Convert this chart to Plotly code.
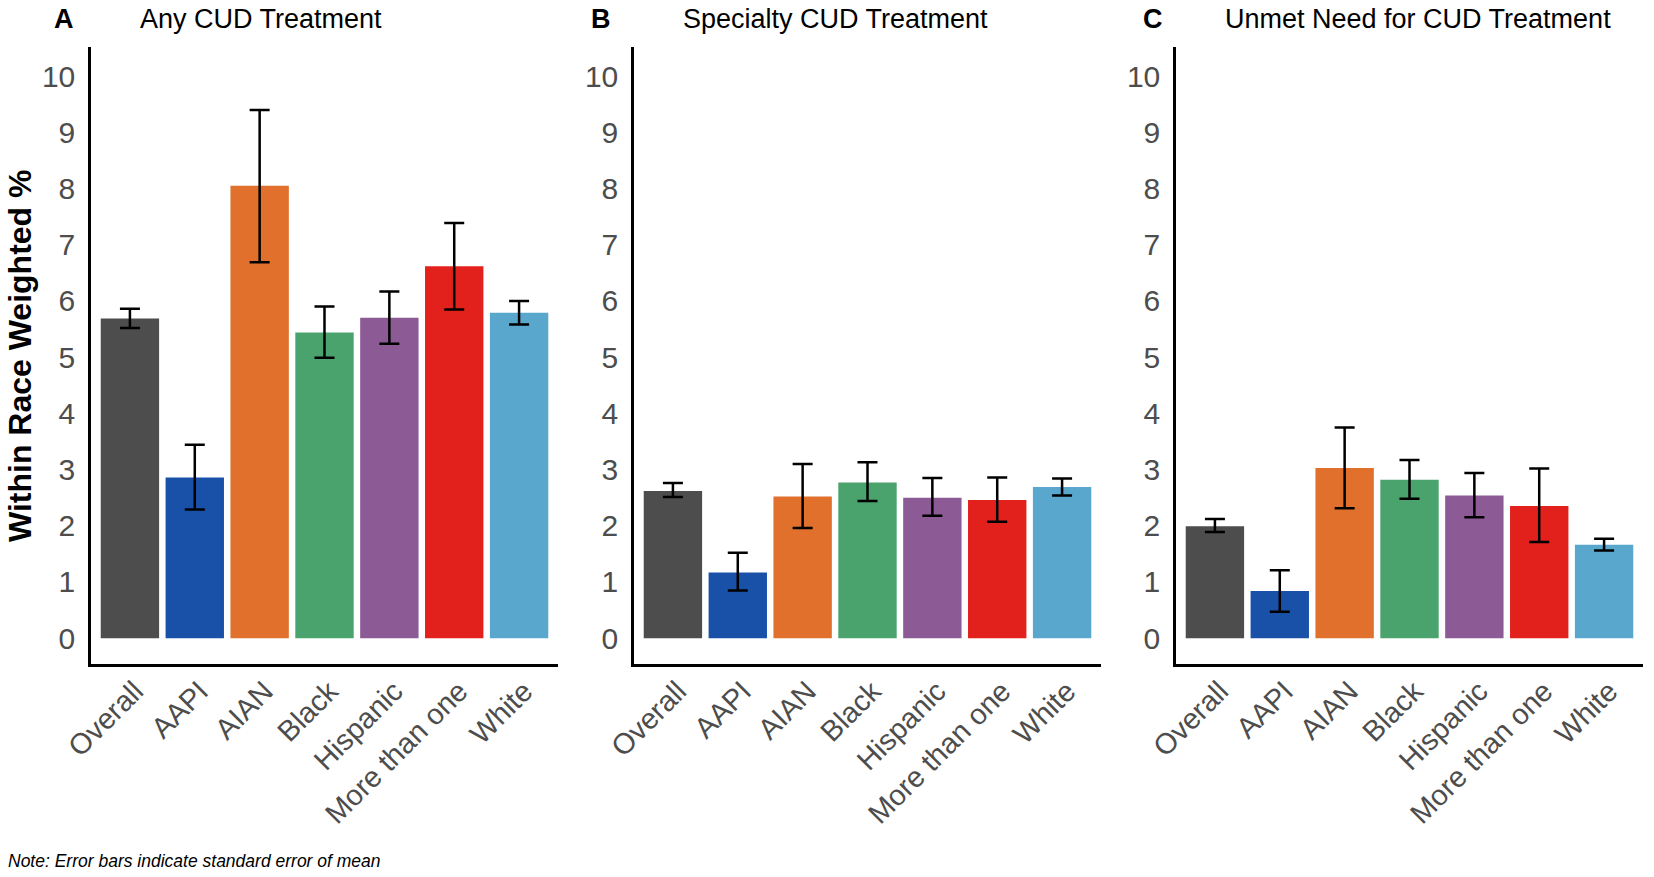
import plotly.graph_objects as go

categories = ["Overall", "AAPI", "AIAN", "Black", "Hispanic", "More than one", "White"]
colors = ["#4D4D4D", "#1A51A8", "#E0702C", "#4AA36C", "#8C5B96", "#E2211C", "#5AA7CD"]

panel_titles = ["Any CUD Treatment", "Specialty CUD Treatment", "Unmet Need for CUD Treatment"]
panel_letters = ["A", "B", "C"]

any_value = [5.69, 2.86, 8.05, 5.44, 5.70, 6.62, 5.79]
any_lower = [5.52, 2.29, 6.69, 4.99, 5.24, 5.85, 5.58]
any_upper = [5.86, 3.44, 9.40, 5.90, 6.17, 7.39, 6.00]

spec_value = [2.62, 1.17, 2.52, 2.77, 2.50, 2.46, 2.69]
spec_lower = [2.51, 0.85, 1.96, 2.44, 2.18, 2.07, 2.54]
spec_upper = [2.76, 1.52, 3.10, 3.13, 2.85, 2.86, 2.84]

unmet_value = [1.99, 0.84, 3.03, 2.82, 2.54, 2.35, 1.66]
unmet_lower = [1.89, 0.47, 2.31, 2.48, 2.15, 1.71, 1.56]
unmet_upper = [2.12, 1.21, 3.75, 3.17, 2.94, 3.02, 1.77]

y_ticks = list(range(0, 11))

panels = [
    (any_value, any_lower, any_upper),
    (spec_value, spec_lower, spec_upper),
    (unmet_value, unmet_lower, unmet_upper),
]

W, H = 1654, 877
x_domains = [(91, 558), (634, 1101), (1176, 1643)]
y_top, y_bot = 47, 664

FONT = "Liberation Sans, Arial, sans-serif"

fig = go.Figure()
layout = {}
annotations = []

for i, (vals, lo, hi) in enumerate(panels):
    n = "" if i == 0 else str(i + 1)
    plus = [h - v for h, v in zip(hi, vals)]
    minus = [v - l for v, l in zip(vals, lo)]
    fig.add_trace(go.Bar(
        x=list(range(len(categories))), y=vals,
        marker=dict(color=colors, line=dict(width=0)),
        width=0.9,
        error_y=dict(type="data", symmetric=False, array=plus, arrayminus=minus,
                     color="black", thickness=2.5, width=10),
        xaxis="x" + n, yaxis="y" + n, showlegend=False,
    ))
    x0, x1 = x_domains[i]
    layout["xaxis" + n] = dict(
        domain=[x0 / W, x1 / W], anchor="y" + n,
        range=[-0.6, 6.6], automargin=False,
        tickmode="array", tickvals=list(range(len(categories))), ticktext=categories,
        tickangle=-45, ticks="", showgrid=False, zeroline=False,
        showline=True, linecolor="black", linewidth=2.5,
        tickfont=dict(family=FONT, size=29, color="#4D4D4D"),
        ticklabelstandoff=-4, ticklabelshift=5,
        fixedrange=True,
    )
    layout["yaxis" + n] = dict(
        domain=[1 - y_bot / H, 1 - y_top / H], anchor="x" + n,
        range=[-0.46, 10.52], automargin=False,
        tickmode="array", tickvals=y_ticks, ticktext=[str(t) for t in y_ticks],
        ticks="", showgrid=False, zeroline=False,
        showline=True, linecolor="black", linewidth=2.5,
        tickfont=dict(family=FONT, size=30, color="#4D4D4D"),
        ticklabelstandoff=7,
        fixedrange=True,
    )
    annotations.append(dict(
        text=panel_titles[i], xref="paper", yref="paper",
        x=(x0 + 47) / W, y=1 - 19 / H, xanchor="left", yanchor="middle",
        showarrow=False, font=dict(family=FONT, size=27, color="black"),
    ))

letter_x = [64, 601, 1153]
for i, L in enumerate(panel_letters):
    annotations.append(dict(
        text="<b>" + L + "</b>", xref="paper", yref="paper",
        x=letter_x[i] / W, y=1 - 19 / H, xanchor="center", yanchor="middle",
        showarrow=False, font=dict(family=FONT, size=27, color="black"),
    ))

annotations.append(dict(
    text="<b>Within Race Weighted %</b>", xref="paper", yref="paper",
    x=20 / W, y=1 - 356 / H, xanchor="center", yanchor="middle", textangle=-90,
    showarrow=False, font=dict(family=FONT, size=32, color="black"),
))

annotations.append(dict(
    text="<i>Note: Error bars indicate standard error of mean</i>", xref="paper", yref="paper",
    x=6 / W, y=1 - 861 / H, xanchor="left", yanchor="middle",
    showarrow=False, font=dict(family=FONT, size=17.5, color="black"),
))

fig.update_layout(
    width=W, height=H,
    margin=dict(l=0, r=0, t=0, b=0, autoexpand=False),
    paper_bgcolor="white", plot_bgcolor="white",
    annotations=annotations,
    bargap=0.1,
    **layout,
)

fig.write_html(
    "out.html",
    config={"displayModeBar": False},
    post_script="document.body.style.margin='0';document.body.style.overflow='hidden';",
)
